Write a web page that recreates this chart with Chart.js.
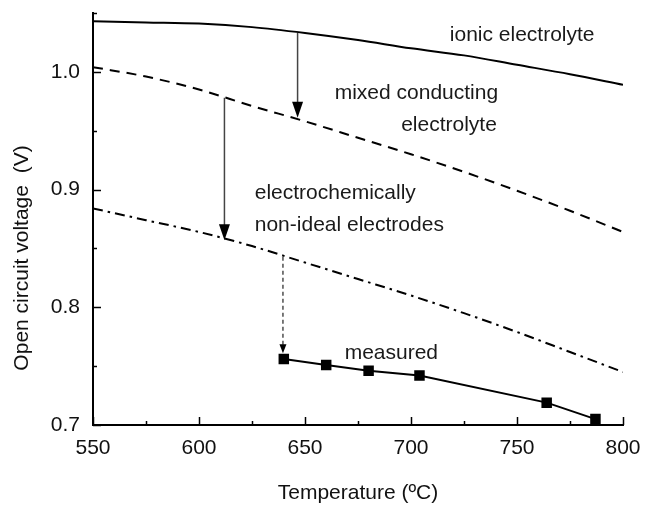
<!DOCTYPE html>
<html>
<head>
<meta charset="utf-8">
<script src="https://cdn.jsdelivr.net/npm/chart.js@4.4.1/dist/chart.umd.min.js"></script>
<style>
    html, body { margin: 0; padding: 0; background: #fff; }
    #wrap { width: 645px; height: 507px; }
</style>
</head>
<body>
<div id="wrap"><canvas id="ocvChart" width="645" height="507"></canvas></div>
<script>
// Model curves, read every 25 ºC
const temps = [550, 575, 600, 625, 650, 675, 700, 725, 750, 775, 800];
const ionicV = [1.043, 1.042, 1.041, 1.038, 1.033, 1.027, 1.020, 1.014, 1.006, 0.998, 0.989];
const mixedV = [1.004, 0.996, 0.985, 0.971, 0.958, 0.944, 0.930, 0.915, 0.899, 0.882, 0.864];
const nonIdealV = [0.884, 0.874, 0.864, 0.852, 0.838, 0.824, 0.810, 0.795, 0.779, 0.762, 0.745];

// Measured points
const measuredT = [640, 660, 680, 704, 764, 787];
const measuredV = [0.756, 0.751, 0.746, 0.742, 0.719, 0.705];

// Tick labels
const xTicks = [550, 600, 650, 700, 750, 800];
const yTicks = [0.7, 0.8, 0.9, 1.0];

// Annotations (data units)
const arrows = [
    { x: 646.5, from: 1.033, to: 0.961, dashed: false },
    { x: 612, from: 0.978, to: 0.857, dashed: false },
    { x: 639.6, from: 0.843, to: 0.761, dashed: true }
];
const labels = [
    { text: 'ionic electrolyte', x: 718.3, y: 1.031, align: 'left' },
    { text: 'mixed conducting', x: 664, y: 0.982, align: 'left' },
    { text: 'electrolyte', x: 740.5, y: 0.955, align: 'right' },
    { text: 'electrochemically', x: 626.3, y: 0.897, align: 'left' },
    { text: 'non-ideal electrodes', x: 626.3, y: 0.870, align: 'left' },
    { text: 'measured', x: 668.7, y: 0.761, align: 'left' }
];
const yTitle = 'Open circuit voltage  (V)';

const FONT = "'Liberation Sans', Arial, Helvetica, sans-serif";
Chart.defaults.font.family = FONT;
Chart.defaults.color = '#111';

function pts(xs, ys) {
    return xs.map(function(x, i) { return { x: x, y: ys[i] }; });
}

// inward ticks, major and minor, drawn on the axes
const tickMarks = {
    id: 'tickMarks',
    afterDatasetsDraw: function(chart) {
        const ctx = chart.ctx;
        const xs = chart.scales.x, ys = chart.scales.y;
        const area = chart.chartArea;
        ctx.save();
        ctx.strokeStyle = '#000';
        ctx.lineWidth = 1.5;
        for (let t = 550; t <= 800; t += 25) {
            const px = Math.round(xs.getPixelForValue(t)) + 0.5;
            const len = (t % 50 === 0) ? 8 : 4;
            ctx.beginPath();
            ctx.moveTo(px, area.bottom);
            ctx.lineTo(px, area.bottom - len);
            ctx.stroke();
        }
        for (let k = 0; k <= 7; k++) {
            const v = 0.7 + k * 0.05;
            const py = Math.round(ys.getPixelForValue(v)) + 0.5;
            const len = (k % 2 === 0) ? 8 : 4;
            ctx.beginPath();
            ctx.moveTo(area.left, py);
            ctx.lineTo(area.left + len, py);
            ctx.stroke();
        }
        // y axis title, sits lower than the plot centre in the original
        ctx.font = '21px ' + FONT;
        ctx.fillStyle = '#111';
        ctx.textAlign = 'center';
        ctx.textBaseline = 'middle';
        ctx.translate(22, (area.top + area.bottom) / 2 + 39);
        ctx.rotate(-Math.PI / 2);
        ctx.fillText(yTitle, 0, 0);
        ctx.restore();
    }
};

// arrows and curve labels
const annotations = {
    id: 'annotations',
    afterDatasetsDraw: function(chart) {
        const ctx = chart.ctx;
        const xs = chart.scales.x, ys = chart.scales.y;
        ctx.save();
        arrows.forEach(function(a) {
            const px = xs.getPixelForValue(a.x);
            const y0 = ys.getPixelForValue(a.from);
            const y1 = ys.getPixelForValue(a.to);
            const headH = a.dashed ? 9 : 16;
            const headW = a.dashed ? 3.5 : 5.5;
            ctx.strokeStyle = a.dashed ? '#222' : '#444';
            ctx.lineWidth = a.dashed ? 1.2 : 1.5;
            ctx.setLineDash(a.dashed ? [4, 3] : []);
            ctx.beginPath();
            ctx.moveTo(px, y0);
            ctx.lineTo(px, y1 - headH + 1);
            ctx.stroke();
            ctx.setLineDash([]);
            ctx.fillStyle = '#000';
            ctx.beginPath();
            ctx.moveTo(px, y1);
            ctx.lineTo(px - headW, y1 - headH);
            ctx.lineTo(px + headW, y1 - headH);
            ctx.closePath();
            ctx.fill();
        });
        ctx.font = '21px ' + FONT;
        ctx.fillStyle = '#1a1a1a';
        ctx.textBaseline = 'middle';
        labels.forEach(function(l) {
            ctx.textAlign = l.align;
            ctx.fillText(l.text, xs.getPixelForValue(l.x), ys.getPixelForValue(l.y));
        });
        ctx.restore();
    }
};

const ctx = document.getElementById('ocvChart').getContext('2d');
new Chart(ctx, {
    type: 'scatter',
    data: {
        datasets: [
            {
                label: 'ionic electrolyte',
                data: pts(temps, ionicV),
                showLine: true,
                borderColor: '#000',
                borderWidth: 2,
                pointRadius: 0,
                cubicInterpolationMode: 'monotone'
            },
            {
                label: 'mixed conducting electrolyte',
                data: pts(temps, mixedV),
                showLine: true,
                borderColor: '#000',
                borderWidth: 2,
                borderDash: [10, 7],
                pointRadius: 0,
                cubicInterpolationMode: 'monotone'
            },
            {
                label: 'electrochemically non-ideal electrodes',
                data: pts(temps, nonIdealV),
                showLine: true,
                borderColor: '#000',
                borderWidth: 2,
                borderDash: [10, 5, 2.5, 5],
                pointRadius: 0,
                cubicInterpolationMode: 'monotone'
            },
            {
                label: 'measured',
                data: pts(measuredT, measuredV),
                showLine: true,
                borderColor: '#000',
                borderWidth: 2,
                backgroundColor: '#000',
                pointStyle: 'rect',
                pointRadius: 6,
                tension: 0
            }
        ]
    },
    options: {
        responsive: false,
        animation: false,
        layout: { padding: { top: 13, right: 22, left: 0, bottom: 0 } },
        plugins: {
            legend: { display: false },
            tooltip: { enabled: false }
        },
        scales: {
            x: {
                type: 'linear',
                min: 550,
                max: 800,
                afterBuildTicks: function(scale) {
                    scale.ticks = xTicks.map(function(v) { return { value: v }; });
                },
                afterFit: function(scale) {
                    scale.height = 82;
                    scale.paddingLeft = 0;
                    scale.paddingRight = 0;
                },
                grid: { display: false, drawTicks: false },
                border: { display: true, color: '#000', width: 2 },
                ticks: {
                    autoSkip: false,
                    maxRotation: 0,
                    padding: 11,
                    color: '#111',
                    font: { size: 21 }
                },
                title: {
                    display: true,
                    text: 'Temperature (ºC)',
                    color: '#111',
                    font: { size: 21 },
                    padding: { top: 0, bottom: 1 }
                }
            },
            y: {
                type: 'linear',
                min: 0.7,
                max: 1.05,
                afterBuildTicks: function(scale) {
                    scale.ticks = yTicks.map(function(v) { return { value: v }; });
                },
                afterFit: function(scale) {
                    scale.width = 93;
                    scale.paddingTop = 0;
                    scale.paddingBottom = 0;
                },
                grid: { display: false, drawTicks: false },
                border: { display: true, color: '#000', width: 2 },
                ticks: {
                    padding: 13,
                    color: '#111',
                    font: { size: 21 },
                    callback: function(v) { return Number(v).toFixed(1); }
                }
            }
        }
    },
    plugins: [tickMarks, annotations]
});
</script>
</body>
</html>
